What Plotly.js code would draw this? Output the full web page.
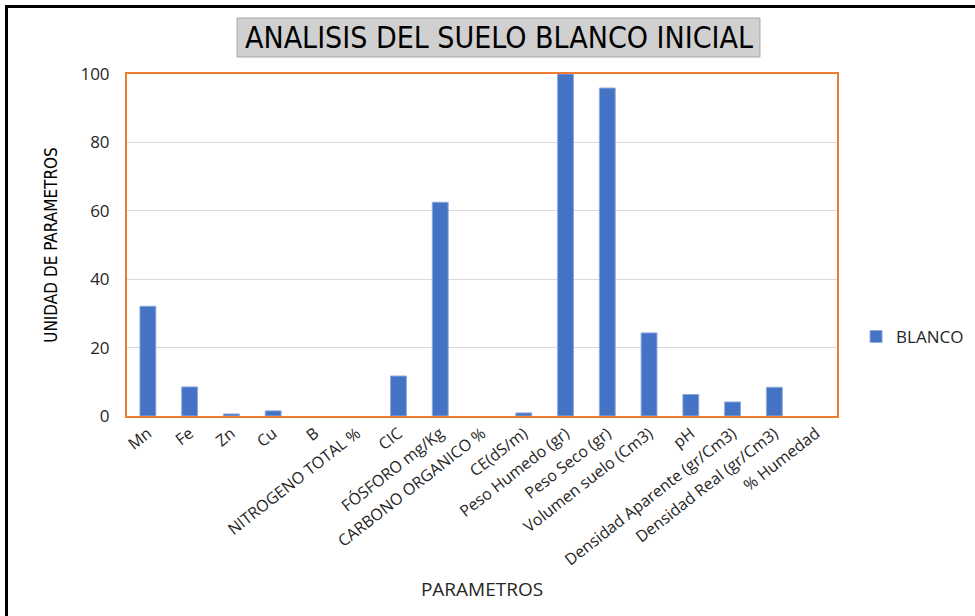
<!DOCTYPE html>
<html>
<head>
<meta charset="utf-8">
<script src="https://cdn.plot.ly/plotly-3.0.1.min.js"></script>
<style>
  html, body { margin: 0; padding: 0; background: #fff; }
  #wrap { position: relative; width: 975px; height: 616px; overflow: hidden; }
  #chart { position: absolute; left: 0; top: 0; width: 975px; height: 616px; }
  #frame { position: absolute; left: 5px; top: 5px; width: 975px; height: 616px;
           border-left: 3px solid #000; border-top: 3px solid #000; pointer-events: none; }
</style>
</head>
<body>
<div id="wrap">
  <div id="chart"></div>
  <div id="frame"></div>
</div>
<script>
const categories = ["Mn", "Fe", "Zn", "Cu", "B", "NITROGENO TOTAL %", "CIC", "FÓSFORO mg/Kg",
  "CARBONO ORGANICO %", "CE(dS/m)", "Peso Humedo (gr)", "Peso Seco (gr)", "Volumen suelo (Cm3)",
  "pH", "Densidad Aparente (gr/Cm3)", "Densidad Real (gr/Cm3)", "% Humedad"];
const blanco = [32.1, 8.5, 0.6, 1.5, 0, 0, 11.7, 62.5, 0, 0.9, 100, 95.9, 24.3, 6.3, 4.1, 8.4, 0];
const seriesName = "BLANCO";
const yTicks = [0, 20, 40, 60, 80, 100];
const chartTitle = "ANALISIS DEL SUELO BLANCO INICIAL";
const xTitle = "PARAMETROS";
const yTitle = "UNIDAD DE PARAMETROS";

const narrow = "Liberation Sans Narrow, DejaVu Sans Condensed, sans-serif";
const sans = "Open Sans, sans-serif";

const trace = {
  type: "bar",
  x: categories,
  y: blanco,
  name: seriesName,
  showlegend: true,
  marker: {
    color: "#4472C4",
    line: { color: "#8FAADC", width: blanco.map(v => v > 0 ? 1 : 0) }
  },
  hoverinfo: "x+y"
};

const layout = {
  width: 975,
  height: 616,
  margin: { l: 127, r: 138, t: 74, b: 200 },
  paper_bgcolor: "#ffffff",
  plot_bgcolor: "#ffffff",
  bargap: 0.62,
  showlegend: true,
  legend: {
    xref: "container", yref: "container",
    x: 0.878, xanchor: "left", y: 0.453, yanchor: "middle",
    itemwidth: 30,
    font: { family: sans, size: 17, color: "#262626" }
  },
  xaxis: {
    type: "category",
    tickangle: -38,
    tickfont: { family: sans, size: 16, color: "#262626" },
    showline: true, linecolor: "#ED7D31", linewidth: 2, mirror: true,
    showgrid: false, ticks: "",
    title: { text: xTitle, font: { family: sans, size: 19, color: "#262626" }, standoff: 14 },
    automargin: false
  },
  yaxis: {
    range: [0, 100],
    tickvals: yTicks,
    tickfont: { family: sans, size: 17, color: "#262626" },
    ticklabelstandoff: 12,
    showline: true, linecolor: "#ED7D31", linewidth: 2, mirror: true,
    showgrid: true, gridcolor: "#D9D9D9", gridwidth: 1,
    zeroline: false, ticks: "", ticklen: 0,
    title: { text: yTitle, font: { family: narrow, size: 17, color: "#000" }, standoff: 18 },
    automargin: false
  },
  shapes: [{
    type: "rect", xref: "paper", yref: "paper",
    x0: 0.155, x1: 0.8915, y0: 1.0497, y1: 1.1637,
    fillcolor: "#D0D0D0", line: { color: "#A6A6A6", width: 1 },
    layer: "below"
  }],
  annotations: [{
    text: chartTitle,
    xref: "paper", yref: "paper",
    x: 0.5235, y: 1.1067, xanchor: "center", yanchor: "middle",
    showarrow: false,
    font: { family: narrow, size: 30, color: "#000" }
  }]
};

Plotly.newPlot("chart", [trace], layout, { displayModeBar: false, staticPlot: true });
</script>
</body>
</html>
